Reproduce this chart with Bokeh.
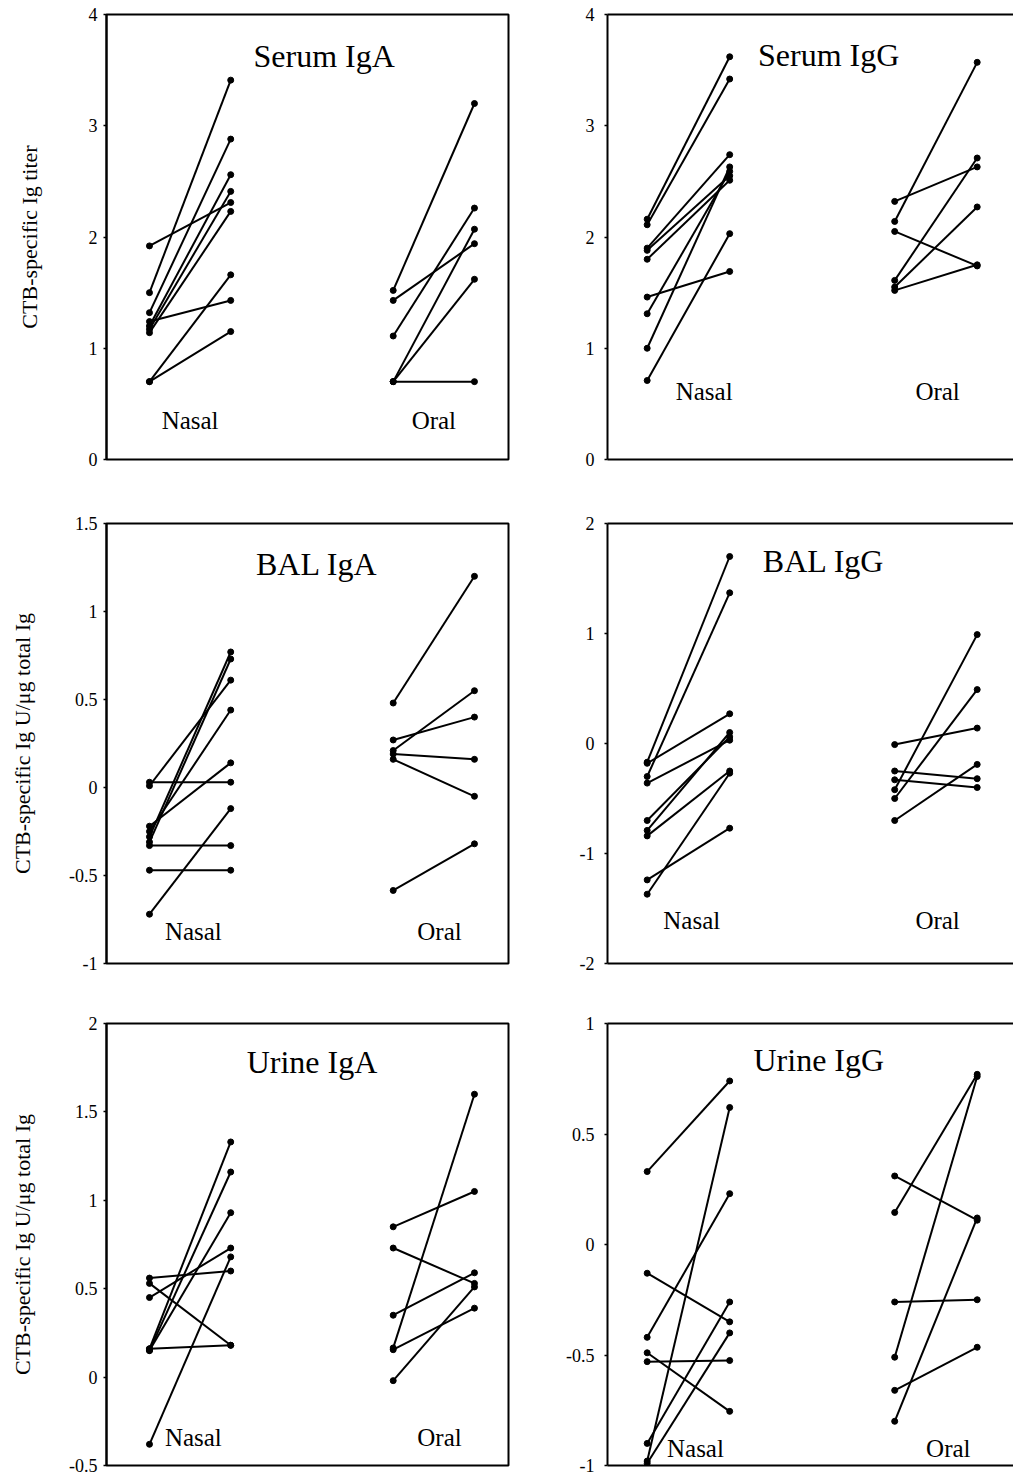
from bokeh.plotting import figure
from bokeh.models import Range1d, FixedTicker, LinearAxis, ColumnDataSource
from bokeh.layouts import column, row
from bokeh.embed import file_html
from bokeh.resources import INLINE
from bokeh.core.properties import value

FONT = "Liberation Serif"

# ---------------- data ----------------
group_names = ["Nasal", "Oral"]
panel_titles = ["Serum IgA", "Serum IgG", "BAL IgA", "BAL IgG", "Urine IgA", "Urine IgG"]
ylabel_titer = "CTB-specific Ig titer"
ylabel_ratio = "CTB-specific Ig U/\u03bcg total Ig"

nasal_x = [1, 2]   # before / after immunisation, nasal group
oral_x = [4, 5]    # before / after immunisation, oral group

serum_iga_nasal_pre = [1.92, 1.50, 1.32, 1.24, 1.20, 1.17, 1.14, 0.70, 0.70]
serum_iga_nasal_post = [2.31, 3.41, 2.88, 1.43, 2.56, 2.41, 2.23, 1.66, 1.15]
serum_iga_oral_pre = [1.52, 1.43, 1.11, 0.70, 0.70, 0.70]
serum_iga_oral_post = [3.20, 1.94, 2.26, 2.07, 1.62, 0.70]

serum_igg_nasal_pre = [2.16, 2.11, 1.90, 1.88, 1.80, 1.46, 1.31, 1.00, 0.71]
serum_igg_nasal_post = [3.62, 3.42, 2.74, 2.55, 2.51, 1.69, 2.59, 2.63, 2.03]
serum_igg_oral_pre = [2.32, 2.14, 2.05, 1.61, 1.55, 1.52]
serum_igg_oral_post = [2.63, 3.57, 1.74, 2.71, 2.27, 1.75]

bal_iga_nasal_pre = [0.03, 0.01, -0.22, -0.25, -0.28, -0.31, -0.33, -0.47, -0.72]
bal_iga_nasal_post = [0.03, 0.61, 0.14, 0.44, 0.77, 0.73, -0.33, -0.47, -0.12]
bal_iga_oral_pre = [0.48, 0.27, 0.21, 0.19, 0.16, -0.585]
bal_iga_oral_post = [1.20, 0.40, 0.55, 0.16, -0.05, -0.32]

bal_igg_nasal_pre = [-0.17, -0.30, -0.18, -0.36, -0.70, -0.79, -0.84, -1.37, -1.24]
bal_igg_nasal_post = [1.70, 1.37, 0.27, 0.03, 0.06, 0.10, -0.25, -0.27, -0.77]
bal_igg_oral_pre = [-0.01, -0.25, -0.33, -0.42, -0.50, -0.70]
bal_igg_oral_post = [0.14, -0.32, -0.40, 0.99, 0.49, -0.19]

urine_iga_nasal_pre = [0.56, 0.53, 0.45, 0.16, 0.16, 0.15, 0.15, -0.38]
urine_iga_nasal_post = [0.60, 0.18, 0.73, 0.18, 1.33, 1.16, 0.93, 0.68]
urine_iga_oral_pre = [0.85, 0.73, 0.35, 0.165, 0.155, -0.02]
urine_iga_oral_post = [1.05, 0.53, 0.59, 1.60, 0.39, 0.51]

urine_igg_nasal_pre = [0.33, -0.13, -0.42, -0.49, -0.53, -0.90, -0.98, -0.99]
urine_igg_nasal_post = [0.74, -0.35, 0.23, -0.755, -0.525, -0.26, 0.62, -0.40]
urine_igg_oral_pre = [0.31, 0.145, -0.26, -0.51, -0.66, -0.80]
urine_igg_oral_post = [0.11, 0.77, -0.25, 0.76, -0.465, 0.12]

serum_ticks = [0, 1, 2, 3, 4]
bal_iga_ticks = [-1, -0.5, 0, 0.5, 1, 1.5]
bal_igg_ticks = [-2, -1, 0, 1, 2]
urine_iga_ticks = [-0.5, 0, 0.5, 1, 1.5, 2]
urine_igg_ticks = [-1, -0.5, 0, 0.5, 1]


# ---------------- drawing ----------------
def make_panel(title, n_pre, n_post, o_pre, o_post, ticks, ylabel, side,
               height, mbt, mbb, title_xy, nasal_xy, oral_xy, label_standoff):
    left = side == "left"
    if left:
        width, mbl, mbr = 528, 106, 20
        xr = Range1d(0.471, 5.419)
    else:
        width, mbl, mbr = 485, 79, 0
        xr = Range1d(0.519, 5.440)
    p = figure(width=width, height=height, x_range=xr,
               y_range=Range1d(min(ticks), max(ticks)),
               output_backend="svg", toolbar_location=None,
               x_axis_location=None, y_axis_location="left",
               min_border_left=mbl, min_border_right=mbr,
               min_border_top=mbt, min_border_bottom=mbb)
    p.xgrid.visible = False
    p.ygrid.visible = False
    p.background_fill_color = "white"
    p.border_fill_color = "white"

    ax = p.yaxis[0]
    ax.ticker = FixedTicker(ticks=ticks)
    ax.major_label_overrides = {float(t): f"{t:g}" for t in ticks}
    ax.axis_line_width = 2
    ax.axis_line_color = "black"
    ax.major_tick_out = 3
    ax.major_tick_in = 0
    ax.major_tick_line_width = 1.5
    ax.minor_tick_line_color = None
    ax.major_label_text_font = FONT
    ax.major_label_text_font_size = "18px"
    ax.major_label_text_color = "black"
    ax.major_label_standoff = 6 if left else 10
    if ylabel:
        ax.axis_label = ylabel
        ax.axis_label_text_font = FONT
        ax.axis_label_text_font_size = "22px"
        ax.axis_label_text_font_style = "normal"
        ax.axis_label_text_color = "black"
        ax.axis_label_standoff = label_standoff

    if left:
        p.outline_line_color = "black"
        p.outline_line_width = 2
        p.outline_line_alpha = 1
    else:
        p.outline_line_color = None
        for loc in ("above", "below"):
            a = LinearAxis(ticker=FixedTicker(ticks=[]), axis_line_width=2,
                           axis_line_color="black", major_tick_out=0,
                           major_tick_in=0, major_tick_line_color=None,
                           minor_tick_line_color=None,
                           major_label_text_font_size="0px",
                           major_label_standoff=0)
            p.add_layout(a, loc)

    for gx, pre, post in ((nasal_x, n_pre, n_post), (oral_x, o_pre, o_post)):
        src = ColumnDataSource(dict(x0=[gx[0]] * len(pre), y0=pre,
                                    x1=[gx[1]] * len(post), y1=post))
        p.segment(x0="x0", y0="y0", x1="x1", y1="y1", source=src,
                  line_color="black", line_width=2)
        p.scatter(x="x0", y="y0", source=src, size=6, color="black")
        p.scatter(x="x1", y="y1", source=src, size=6, color="black")

    p.text(x=[title_xy[0]], y=[title_xy[1]], text=[title],
           text_font=value(FONT), text_font_size="32px", text_color="black",
           text_align="center", text_baseline="middle")
    p.text(x=[nasal_xy[0], oral_xy[0]], y=[nasal_xy[1], oral_xy[1]],
           text=group_names, text_font=value(FONT), text_font_size="25px",
           text_color="black", text_align="center", text_baseline="middle")
    return p


p1 = make_panel(panel_titles[0], serum_iga_nasal_pre, serum_iga_nasal_post,
                serum_iga_oral_pre, serum_iga_oral_post, serum_ticks,
                ylabel_titer, "left", 488, 14, 28,
                (3.15, 3.63), (1.5, 0.35), (4.5, 0.35), 44)
p2 = make_panel(panel_titles[1], serum_igg_nasal_pre, serum_igg_nasal_post,
                serum_igg_oral_pre, serum_igg_oral_post, serum_ticks,
                None, "right", 488, 13, 29,
                (3.20, 3.64), (1.69, 0.61), (4.52, 0.61), 0)
p3 = make_panel(panel_titles[2], bal_iga_nasal_pre, bal_iga_nasal_post,
                bal_iga_oral_pre, bal_iga_oral_post, bal_iga_ticks,
                ylabel_ratio, "left", 500, 35, 20,
                (3.06, 1.27), (1.54, -0.82), (4.57, -0.82), 31)
p4 = make_panel(panel_titles[3], bal_igg_nasal_pre, bal_igg_nasal_post,
                bal_igg_oral_pre, bal_igg_oral_post, bal_igg_ticks,
                None, "right", 500, 29, 25,
                (3.14, 1.66), (1.54, -1.61), (4.52, -1.61), 0)
p5 = make_panel(panel_titles[4], urine_iga_nasal_pre, urine_iga_nasal_post,
                urine_iga_oral_pre, urine_iga_oral_post, urine_iga_ticks,
                ylabel_ratio, "left", 488, 35, 9,
                (3.00, 1.78), (1.54, -0.34), (4.57, -0.34), 31)
p6 = make_panel(panel_titles[5], urine_igg_nasal_pre, urine_igg_nasal_post,
                urine_igg_oral_pre, urine_igg_oral_post, urine_igg_ticks,
                None, "right", 488, 34, 11,
                (3.08, 0.837), (1.585, -0.925), (4.65, -0.925), 0)

layout = column(row(p1, p2), row(p3, p4), row(p5, p6))

open("out.html", "w").write(file_html(layout, INLINE))
